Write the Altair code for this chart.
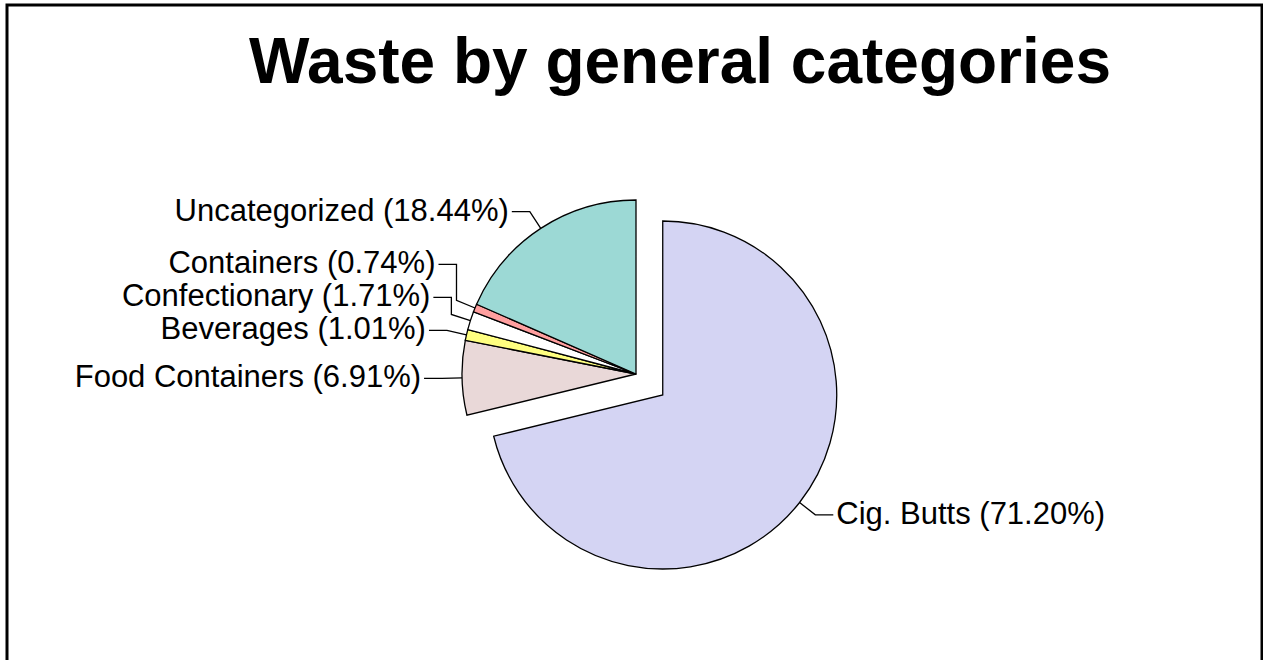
import math
import altair as alt
import pandas as pd

# ---- data ----
categories = ["Cig. Butts", "Food Containers", "Beverages", "Confectionary", "Containers", "Uncategorized"]
percents = [71.20, 6.91, 1.01, 1.71, 0.74, 18.44]
exploded = ["Cig. Butts"]
title_text = ["Waste by general categories"]

# ---- styles ----
fills = ["#d4d4f3", "#e9d8d8", "#ffff80", "#ffffff", "#ff9f9f", "#9cd9d5"]
FONT = "Liberation Sans, Arial, sans-serif"

# ---- layout (pixels) ----
W, H = 1263, 660
R = 174.0                 # pie radius
CX, CY = 636.0, 374.0     # pie centre
EXPLODE = 34.0 / R        # explode distance, in radii
ELBOW = 20.0 / R          # radial length of leader before it bends
GAP = 18.0 / R            # horizontal stub of leader
SPACING = 33.0 / R        # minimum vertical distance between labels
TEXT_PAD = 3.0 / R

total = sum(percents)
slices = []
cum = 0.0
for cat, p in zip(categories, percents):
    start, end = cum, cum + p
    cum = end
    mid = (start + end) / 2.0 / total * 2.0 * math.pi
    off = EXPLODE if cat in exploded else 0.0
    cx, cy = off * math.sin(mid), off * math.cos(mid)
    s = dict(category=cat, pct=p, label=f"{cat} ({p:.2f}%)", start=start, end=end,
             cx=cx, cy=cy,
             ax=cx + math.sin(mid), ay=cy + math.cos(mid),
             ex=cx + (1 + ELBOW) * math.sin(mid), ey=cy + (1 + ELBOW) * math.cos(mid),
             side="left" if math.sin(mid) < 0 else "right")
    s["ly"] = s["ey"]
    slices.append(s)

# resolve label collisions (push labels upward)
for side in ("left", "right"):
    group = sorted([s for s in slices if s["side"] == side], key=lambda s: s["ey"])
    for prev, cur in zip(group, group[1:]):
        if cur["ly"] < prev["ly"] + SPACING:
            cur["ly"] = prev["ly"] + SPACING

leader_rows = []
for s in slices:
    sign = -1.0 if s["side"] == "left" else 1.0
    s["lx"] = s["ex"] + sign * GAP
    s["tx"] = s["lx"] + sign * TEXT_PAD
    pts = [(s["ax"], s["ay"]), (s["ex"], s["ey"])]
    if abs(s["ly"] - s["ey"]) > 1e-9:
        pts.append((s["ex"], s["ly"]))
    pts.append((s["lx"], s["ly"]))
    for i, (px, py) in enumerate(pts):
        leader_rows.append(dict(category=s["category"], seq=i, px=px, py=py))

slice_df = pd.DataFrame(slices)
leader_df = pd.DataFrame(leader_rows)
title_df = pd.DataFrame({"title": title_text})

xs = alt.Scale(domain=[-CX / R, (W - CX) / R], range=[0, W], nice=False, zero=False)
ys = alt.Scale(domain=[-(H - CY) / R, CY / R], range=[H, 0], nice=False, zero=False)

arcs = alt.Chart(slice_df).mark_arc(radius=R, stroke="#000000", strokeWidth=1.3).encode(
    x=alt.X("cx:Q", scale=xs, axis=None),
    y=alt.Y("cy:Q", scale=ys, axis=None),
    theta=alt.Theta("start:Q", scale=alt.Scale(domain=[0, total], range=[0, 2 * math.pi]), stack=None),
    theta2="end:Q",
    fill=alt.Fill("category:N", scale=alt.Scale(domain=categories, range=fills), legend=None),
)

leaders = alt.Chart(leader_df).mark_line(color="#000000", strokeWidth=1.3).encode(
    x=alt.X("px:Q", scale=xs, axis=None),
    y=alt.Y("py:Q", scale=ys, axis=None),
    detail="category:N",
    order="seq:Q",
)

labels_left = alt.Chart(slice_df).transform_filter(alt.datum.side == "left").mark_text(
    align="right", baseline="middle", font=FONT, fontSize=31, color="#000000"
).encode(
    x=alt.X("tx:Q", scale=xs, axis=None),
    y=alt.Y("ly:Q", scale=ys, axis=None),
    text="label:N",
)

labels_right = alt.Chart(slice_df).transform_filter(alt.datum.side == "right").mark_text(
    align="left", baseline="middle", font=FONT, fontSize=31, color="#000000"
).encode(
    x=alt.X("tx:Q", scale=xs, axis=None),
    y=alt.Y("ly:Q", scale=ys, axis=None),
    text="label:N",
)

title = alt.Chart(title_df).mark_text(
    align="center", baseline="alphabetic", font=FONT, fontSize=64, fontWeight="bold", color="#000000"
).encode(x=alt.value(680), y=alt.value(83), text="title:N")

frame = alt.Chart(title_df).mark_rect(filled=False, stroke="#000000", strokeWidth=3).encode(
    x=alt.value(7), x2=alt.value(1262), y=alt.value(5), y2=alt.value(760)
)

chart = alt.layer(frame, arcs, leaders, labels_left, labels_right, title).properties(
    width=W,
    height=H,
    padding=0,
    autosize=alt.AutoSizeParams(type="none"),
).configure_view(stroke=None)

chart.save("out.html", embed_options={"renderer": "svg", "actions": False})
